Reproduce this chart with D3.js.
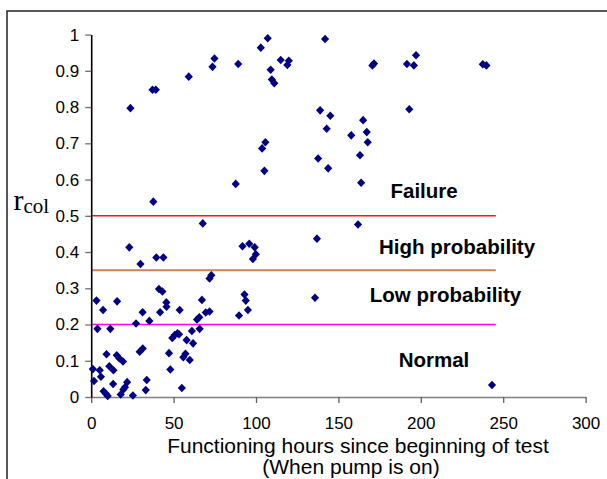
<!DOCTYPE html>
<html>
<head>
<meta charset="utf-8">
<script src="https://cdn.jsdelivr.net/npm/d3@7"></script>
<style>
  html, body { margin: 0; padding: 0; background: #fff; }
  svg { display: block; }
</style>
</head>
<body>
<svg id="chart" width="607" height="479"></svg>
<script>
// ---- data ----
const hours = [
  23.8, 37.2, 39.2, 59.2, 73.6, 74.8, 89.2, 102.9, 107.1, 108.9,
  109.6, 111.1, 115.0, 119.0, 119.9, 141.9, 170.6, 171.6, 191.6, 195.8,
  197.1, 237.6, 239.8, 193.0, 138.9, 145.1, 142.9, 157.8, 165.0, 167.2,
  167.8, 105.7, 103.7, 105.1, 137.7, 143.8, 163.1, 163.8, 87.7, 37.7,
  67.7, 161.9, 137.0, 23.1, 91.8, 95.9, 99.2, 99.9, 98.1, 39.5,
  43.8, 29.9, 71.8, 72.9, 41.1, 43.2, 135.8, 93.0, 93.8, 3.2,
  15.7, 45.6, 45.7, 41.8, 31.2, 53.7, 7.2, 67.2, 69.5, 71.8,
  95.1, 89.7, 64.2, 65.6, 35.3, 27.2, 3.8, 11.6, 65.8, 61.1,
  49.2, 50.7, 52.3, 53.3, 57.9, 61.8, 29.4, 31.3, 47.2, 9.3,
  15.5, 17.0, 19.3, 55.9, 57.2, 59.8, 11.0, 13.5, 1.0, 5.2,
  48.0, 5.9, 1.7, 13.3, 33.7, 21.8, 20.5, 19.5, 7.5, 8.9,
  10.0, 17.9, 25.3, 33.1, 55.0, 243.2
];
const rcol = [
  0.797, 0.848, 0.848, 0.884, 0.911, 0.934, 0.919, 0.964, 0.990, 0.903,
  0.876, 0.866, 0.930, 0.916, 0.928, 0.988, 0.915, 0.920, 0.919, 0.915,
  0.943, 0.918, 0.915, 0.794, 0.791, 0.776, 0.740, 0.722, 0.764, 0.731,
  0.703, 0.703, 0.686, 0.624, 0.658, 0.631, 0.667, 0.591, 0.588, 0.539,
  0.479, 0.476, 0.437, 0.413, 0.416, 0.423, 0.413, 0.394, 0.381, 0.385,
  0.385, 0.367, 0.327, 0.336, 0.298, 0.291, 0.274, 0.283, 0.266, 0.266,
  0.264, 0.261, 0.249, 0.234, 0.234, 0.240, 0.240, 0.268, 0.233, 0.236,
  0.240, 0.225, 0.214, 0.220, 0.210, 0.203, 0.188, 0.188, 0.188, 0.182,
  0.163, 0.171, 0.176, 0.173, 0.157, 0.148, 0.125, 0.134, 0.121, 0.118,
  0.115, 0.107, 0.098, 0.110, 0.119, 0.102, 0.085, 0.074, 0.077, 0.074,
  0.076, 0.056, 0.044, 0.036, 0.047, 0.041, 0.027, 0.021, 0.016, 0.009,
  0.003, 0.007, 0.004, 0.019, 0.025, 0.033
];
const xTicks = [0, 50, 100, 150, 200, 250, 300];
const yTicks = [0, 0.1, 0.2, 0.3, 0.4, 0.5, 0.6, 0.7, 0.8, 0.9, 1];
const yTickLabels = ["0", "0.1", "0.2", "0.3", "0.4", "0.5", "0.6", "0.7", "0.8", "0.9", "1"];
const thresholds = [0.5, 0.35, 0.2];
const thresholdColors = ["#f01818", "#c48461", "#ff00ff"];
const thresholdEnd = 245.5;
const zoneLabels = ["Failure", "High probability", "Low probability", "Normal"];
const zoneLabelY = [0.55, 0.395, 0.262, 0.082];
const zoneLabelX = [202, 222, 215, 208];

// ---- layout ----
const svg = d3.select("#chart");
const font = "'Liberation Sans', Arial, sans-serif";
const x = d3.scaleLinear().domain([0, 300]).range([91.2, 585.6]);
const y = d3.scaleLinear().domain([0, 1]).range([397, 34.6]);

// outer frame
svg.append("rect")
  .attr("x", 7).attr("y", 11).attr("width", 640).attr("height", 520)
  .attr("fill", "none").attr("stroke", "#222").attr("stroke-width", 1.5);

// threshold lines
svg.append("g").selectAll("line").data(thresholds).join("line")
  .attr("x1", x(0) + 1).attr("x2", x(thresholdEnd))
  .attr("y1", d => y(d)).attr("y2", d => y(d))
  .attr("stroke", (d, i) => thresholdColors[i])
  .attr("stroke-width", (d, i) => i === 1 ? 2 : 1.4);

// x axis
const gx = svg.append("g").attr("transform", `translate(0,${y(0)})`)
  .call(d3.axisBottom(x).tickValues(xTicks).tickSize(6).tickSizeOuter(0).tickPadding(14)
    .tickFormat(d3.format("d")));
gx.select(".domain").attr("stroke", "#808080").attr("stroke-width", 1.6);
gx.selectAll(".tick line").attr("stroke", "#606060").attr("stroke-width", 1.3);
gx.selectAll(".tick text").attr("font-family", font).attr("font-size", 17).attr("fill", "#000");

// y axis
const gy = svg.append("g").attr("transform", `translate(${x(0)},0)`)
  .call(d3.axisLeft(y).tickValues(yTicks).tickSize(6).tickSizeOuter(0).tickPadding(6)
    .tickFormat((d, i) => yTickLabels[i]));
gy.select(".domain").attr("stroke", "#000").attr("stroke-width", 1.6);
gy.selectAll(".tick line").attr("stroke", "#707070").attr("stroke-width", 1.3);
gy.selectAll(".tick text").attr("font-family", font).attr("font-size", 17).attr("fill", "#000");

// points
const pts = hours.map((h, i) => [h, rcol[i]]);
svg.append("g").selectAll("path").data(pts).join("path")
  .attr("transform", d => `translate(${x(d[0])},${y(d[1])})`)
  .attr("d", "M0,-4.3L4.1,0L0,4.3L-4.1,0Z")
  .attr("fill", "#000080");

// zone labels
svg.append("g").selectAll("text").data(zoneLabels).join("text")
  .attr("x", (d, i) => x(zoneLabelX[i]))
  .attr("y", (d, i) => y(zoneLabelY[i]))
  .attr("text-anchor", "middle")
  .attr("font-family", font).attr("font-weight", "bold").attr("font-size", 20.5)
  .attr("fill", "#000")
  .text(d => d);

// x axis title
svg.append("text").attr("x", 358).attr("y", 452.5).attr("text-anchor", "middle")
  .attr("font-family", font).attr("font-size", 21).attr("fill", "#000")
  .text("Functioning hours since beginning of test");
svg.append("text").attr("x", 351).attr("y", 474).attr("text-anchor", "middle")
  .attr("font-family", font).attr("font-size", 21).attr("fill", "#000")
  .text("(When pump is on)");

// y axis title r_col
const yt = svg.append("text").attr("x", 13.5).attr("y", 209.5)
  .attr("font-family", "'Liberation Serif', 'Times New Roman', serif").attr("fill", "#000");
yt.append("tspan").attr("font-size", 30).text("r");
yt.append("tspan").attr("font-size", 21).attr("dy", 3.5).text("col");
</script>
</body>
</html>
